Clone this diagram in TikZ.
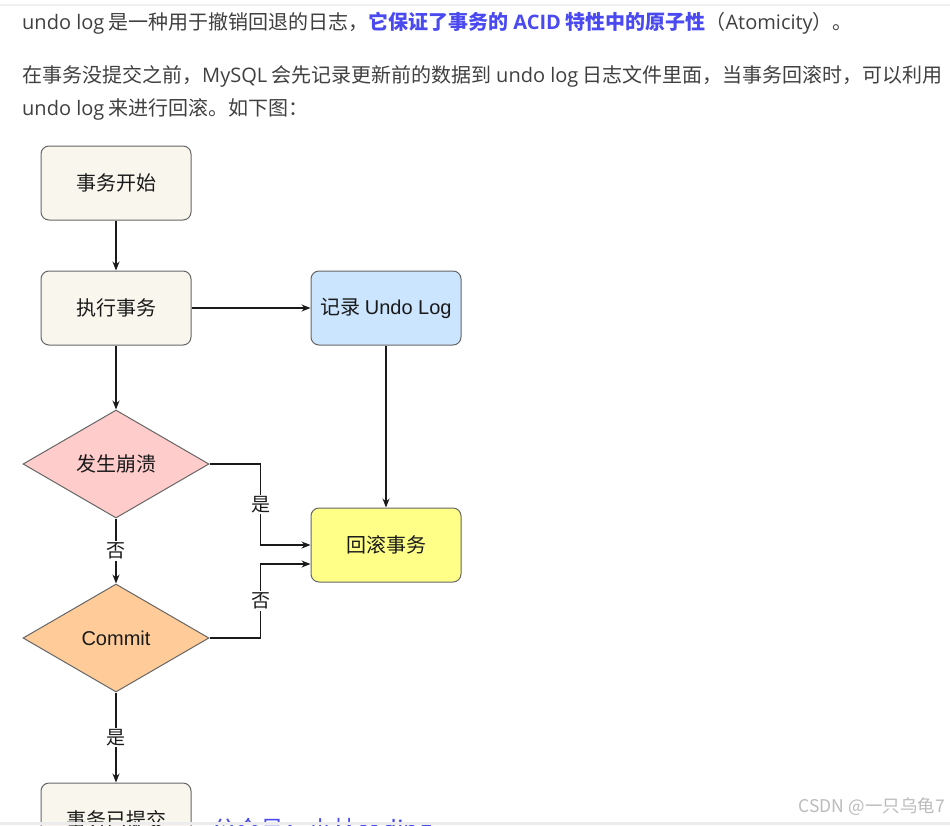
\documentclass[tikz,border=0pt]{standalone}
\usepackage{fontspec}
\setmainfont{Noto Sans CJK SC}
\newfontfamily\latinfont{Open Sans}
\newfontfamily\chartlatin{Liberation Sans}
\usetikzlibrary{arrows.meta,positioning,shapes.geometric}
\definecolor{ink}{HTML}{1A1A1A}
\definecolor{bodytext}{HTML}{404040}
\definecolor{boxline}{HTML}{666666}
\definecolor{startbg}{HTML}{F9F7ED}
\definecolor{logbg}{HTML}{CCE5FF}
\definecolor{crashbg}{HTML}{FFCCCC}
\definecolor{commitbg}{HTML}{FFCC99}
\definecolor{rollbg}{HTML}{FFFF88}
\definecolor{accentblue}{HTML}{4A4AF0}
\definecolor{markgray}{HTML}{BBBBBB}
\newcommand{\lt}[1]{{\latinfont #1}}
\newcommand{\ct}[1]{{\chartlatin #1}}
\tikzset{
  flowcard/.style={
    draw=boxline, fill=startbg, line width=1pt, rounded corners=8pt,
    minimum width=150pt, minimum height=74pt, inner sep=0pt,
    font=\fontsize{20}{22}\selectfont, text=ink
  },
  bluecard/.style={flowcard, fill=logbg},
  yellowcard/.style={flowcard, fill=rollbg},
  pinkdiamond/.style={
    draw=boxline, fill=crashbg, line width=1pt, diamond, aspect=1.72,
    minimum width=186pt, minimum height=108pt, inner sep=0pt,
    font=\fontsize{20}{22}\selectfont, text=ink
  },
  orangediamond/.style={pinkdiamond, fill=commitbg},
  flowarrow/.style={draw=ink, line width=1.1pt, -{Stealth[length=9pt,width=7pt]}},
  edgelabel/.style={fill=white, inner sep=1.5pt, font=\fontsize{19}{20}\selectfont, text=ink},
  bodyline/.style={anchor=base west, inner sep=0pt, text=bodytext, font=\fontsize{20}{22}\selectfont}
}
\begin{document}
\begin{tikzpicture}[x=1pt,y=-1pt]
  \useasboundingbox (0,0) rectangle (950,825);
  \clip (0,0) rectangle (950,825);
  \fill[white] (0,0) rectangle (950,825);
  \draw[gray!12, line width=1.5pt] (0,5) -- (950,5);

  % text above the chart
  \node[bodyline] (line1) at (22,29) {\lt{undo log} 是一种用于撤销回退的日志，\textcolor{accentblue}{\bfseries 它保证了事务的 \lt{ACID} 特性中的原子性}（\lt{Atomicity}）。};
  \node[bodyline] (line2) at (22,82) {在事务没提交之前，\lt{MySQL} 会先记录更新前的数据到 \lt{undo log} 日志文件里面，当事务回滚时，可以利用};
  \node[bodyline] (line3) at (22,115) {\lt{undo log} 来进行回滚。如下图：};

  % flow chart
  \node[flowcard] (start) at (116,183) {事务开始};
  \node[flowcard] (exec) at (116,308) {执行事务};
  \node[bluecard] (undolog) at (386,308) {记录 \ct{Undo Log}};
  \node[pinkdiamond] (crash) at (116,464) {发生崩溃};
  \node[yellowcard] (rollback) at (386,545) {回滚事务};
  \node[orangediamond] (commit) at (116,638) {\ct{Commit}};
  \node[flowcard] (done) at (116,820) {事务已提交};

  \draw[flowarrow] (start) -- (exec);
  \draw[flowarrow] (exec) -- (undolog);
  \draw[flowarrow] (exec) -- (crash);
  \draw[flowarrow] (undolog) -- (rollback);
  \draw[flowarrow] (crash.east) -- ++(51,0) |- node[edgelabel, pos=0.25] {是} (rollback.west);
  \draw[flowarrow] (crash) -- node[edgelabel] {否} (commit);
  \draw[flowarrow] (commit.east) -- ++(51,0) |- node[edgelabel, pos=0.25] {否} ([yshift=-19pt]rollback.west);
  \draw[flowarrow] (commit) -- node[edgelabel] {是} (done);

  % page footer
  \node[anchor=west, inner sep=0pt, text=accentblue, font=\fontsize{24}{26}\selectfont] (account) at (212,831) {公众号：小林coding};
  \node[anchor=east, inner sep=0pt, text=markgray, font=\fontsize{17.5}{20}\selectfont] (mark) at (945,807) {CSDN @一只乌龟7};
  \fill[gray!15] (0,822) rectangle (950,825);
\end{tikzpicture}
\end{document}
